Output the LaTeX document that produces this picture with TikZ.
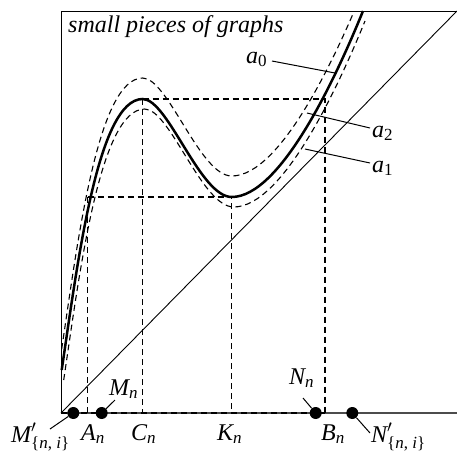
\documentclass[tikz,border=0pt]{standalone}
\usepackage{amsmath}
\usepackage{fontspec}
\setmainfont{Liberation Serif}
\DeclareMathSizes{24}{24}{17}{12}
\begin{document}
\begin{tikzpicture}[x=1pt,y=-1pt,
  frame/.style={line width=0.9pt,black},
  dsh/.style={line width=1.1pt,dash pattern=on 6pt off 4pt},
  mainc/.style={line width=2.5pt},
  lbl/.style={anchor=base west,inner sep=0pt,font=\fontsize{24}{28}\selectfont},
  dotn/.style={circle,fill=black,inner sep=0pt,minimum size=12pt},
  leader/.style={line width=1pt}]
\useasboundingbox (0,0) rectangle (457,467);
% frame
\coordinate (O) at (61,413);
\coordinate (TL) at (61,11);
\coordinate (TR) at (457,11);
\coordinate (XR) at (457,413);
\draw[frame] (O) -- (TL) -- (TR);
\draw[frame] (O) -- (TR);
\draw[line width=1.6pt,black!70] (O) -- (XR);
% key points
\coordinate (Pk) at (142.7,99);
\coordinate (Mn) at (231.7,197);
\coordinate (Ap) at (87.7,197);
\coordinate (Bp) at (325,99);
\coordinate (Af) at (87.7,413);
\coordinate (Cf) at (142.7,413);
\coordinate (Kf) at (231.7,413);
\coordinate (Bf) at (325,413);
\draw[dsh] (O) -- (Bf);
\draw[dsh] (Pk) -- (Bp) -- (Bf);
\draw[dsh] (Ap) -- (Mn) -- (Kf);
\draw[dsh] (Ap) -- (Af);
\draw[dsh] (Pk) -- (Cf);
% curves
\draw[mainc] (61.7,370) .. controls (78,260) and (98,99) .. (142.7,99)
  .. controls (168,99) and (200,197) .. (231.7,197)
  .. controls (280,197) and (335,80) .. (363,11);
\begin{scope}
\clip (TL) rectangle (XR);
\draw[dsh,yshift=21pt] (61.7,370) .. controls (78,260) and (98,99) .. (142.7,99)
  .. controls (168,99) and (200,197) .. (231.7,197)
  .. controls (280,197) and (335,80) .. (363,11) -- (370,-20);
\draw[dsh,xshift=2pt,yshift=-10pt] (61.7,370) .. controls (78,260) and (98,99) .. (142.7,99)
  .. controls (168,99) and (200,197) .. (231.7,197)
  .. controls (280,197) and (335,80) .. (363,11);
\end{scope}
% title
\node[lbl,font=\fontsize{24}{28}\selectfont\itshape] (title) at (68,32) {small pieces of graphs};
% curve labels
\node[lbl] (a0) at (246,63) {$\textit{a}_{\text{0}}$};
\node[lbl] (a2) at (372,137) {$\textit{a}_{\text{2}}$};
\node[lbl] (a1) at (372,172) {$\textit{a}_{\text{1}}$};
\coordinate (a0s) at (272,61);
\coordinate (a0e) at (335,73);
\coordinate (a2s) at (370,128);
\coordinate (a2e) at (307,113);
\coordinate (a1s) at (370,163);
\coordinate (a1e) at (305,149);
\draw[leader] (a0s) -- (a0e);
\draw[leader] (a2s) -- (a2e);
\draw[leader] (a1s) -- (a1e);
% axis points
\node[dotn] (dMp) at (73.3,413) {};
\node[dotn] (dMn) at (101.7,413) {};
\node[dotn] (dNn) at (315.7,413) {};
\node[dotn] (dNp) at (352.3,413) {};
\coordinate (lMp) at (50,429);
\coordinate (lMn) at (115,400);
\coordinate (lNn) at (303,398);
\coordinate (lNp) at (370,433);
\draw[leader] (lMp) -- (dMp);
\draw[leader] (lMn) -- (dMn);
\draw[leader] (lNn) -- (dNn);
\draw[leader] (lNp) -- (dNp);
% axis labels
\node[lbl] (tMn) at (109,395) {$\textit{M}_{\textit{n}}$};
\node[lbl] (tNn) at (289,384) {$\textit{N}_{\textit{n}}$};
\node[lbl] (tAn) at (81,440) {$\textit{A}_{\textit{n}}$};
\node[lbl] (tCn) at (131,440) {$\textit{C}_{\textit{n}}$};
\node[lbl] (tKn) at (217,440) {$\textit{K}_{\textit{n}}$};
\node[lbl] (tBn) at (321,440) {$\textit{B}_{\textit{n}}$};
\node[lbl] (tMp) at (11,442) {$\textit{M}'_{\text{\{\textit{n}, \textit{i}\}}}$};
\node[lbl] (tNp) at (371,442) {$\textit{N}'_{\text{\{\textit{n}, \textit{i}\}}}$};
\end{tikzpicture}
\end{document}
